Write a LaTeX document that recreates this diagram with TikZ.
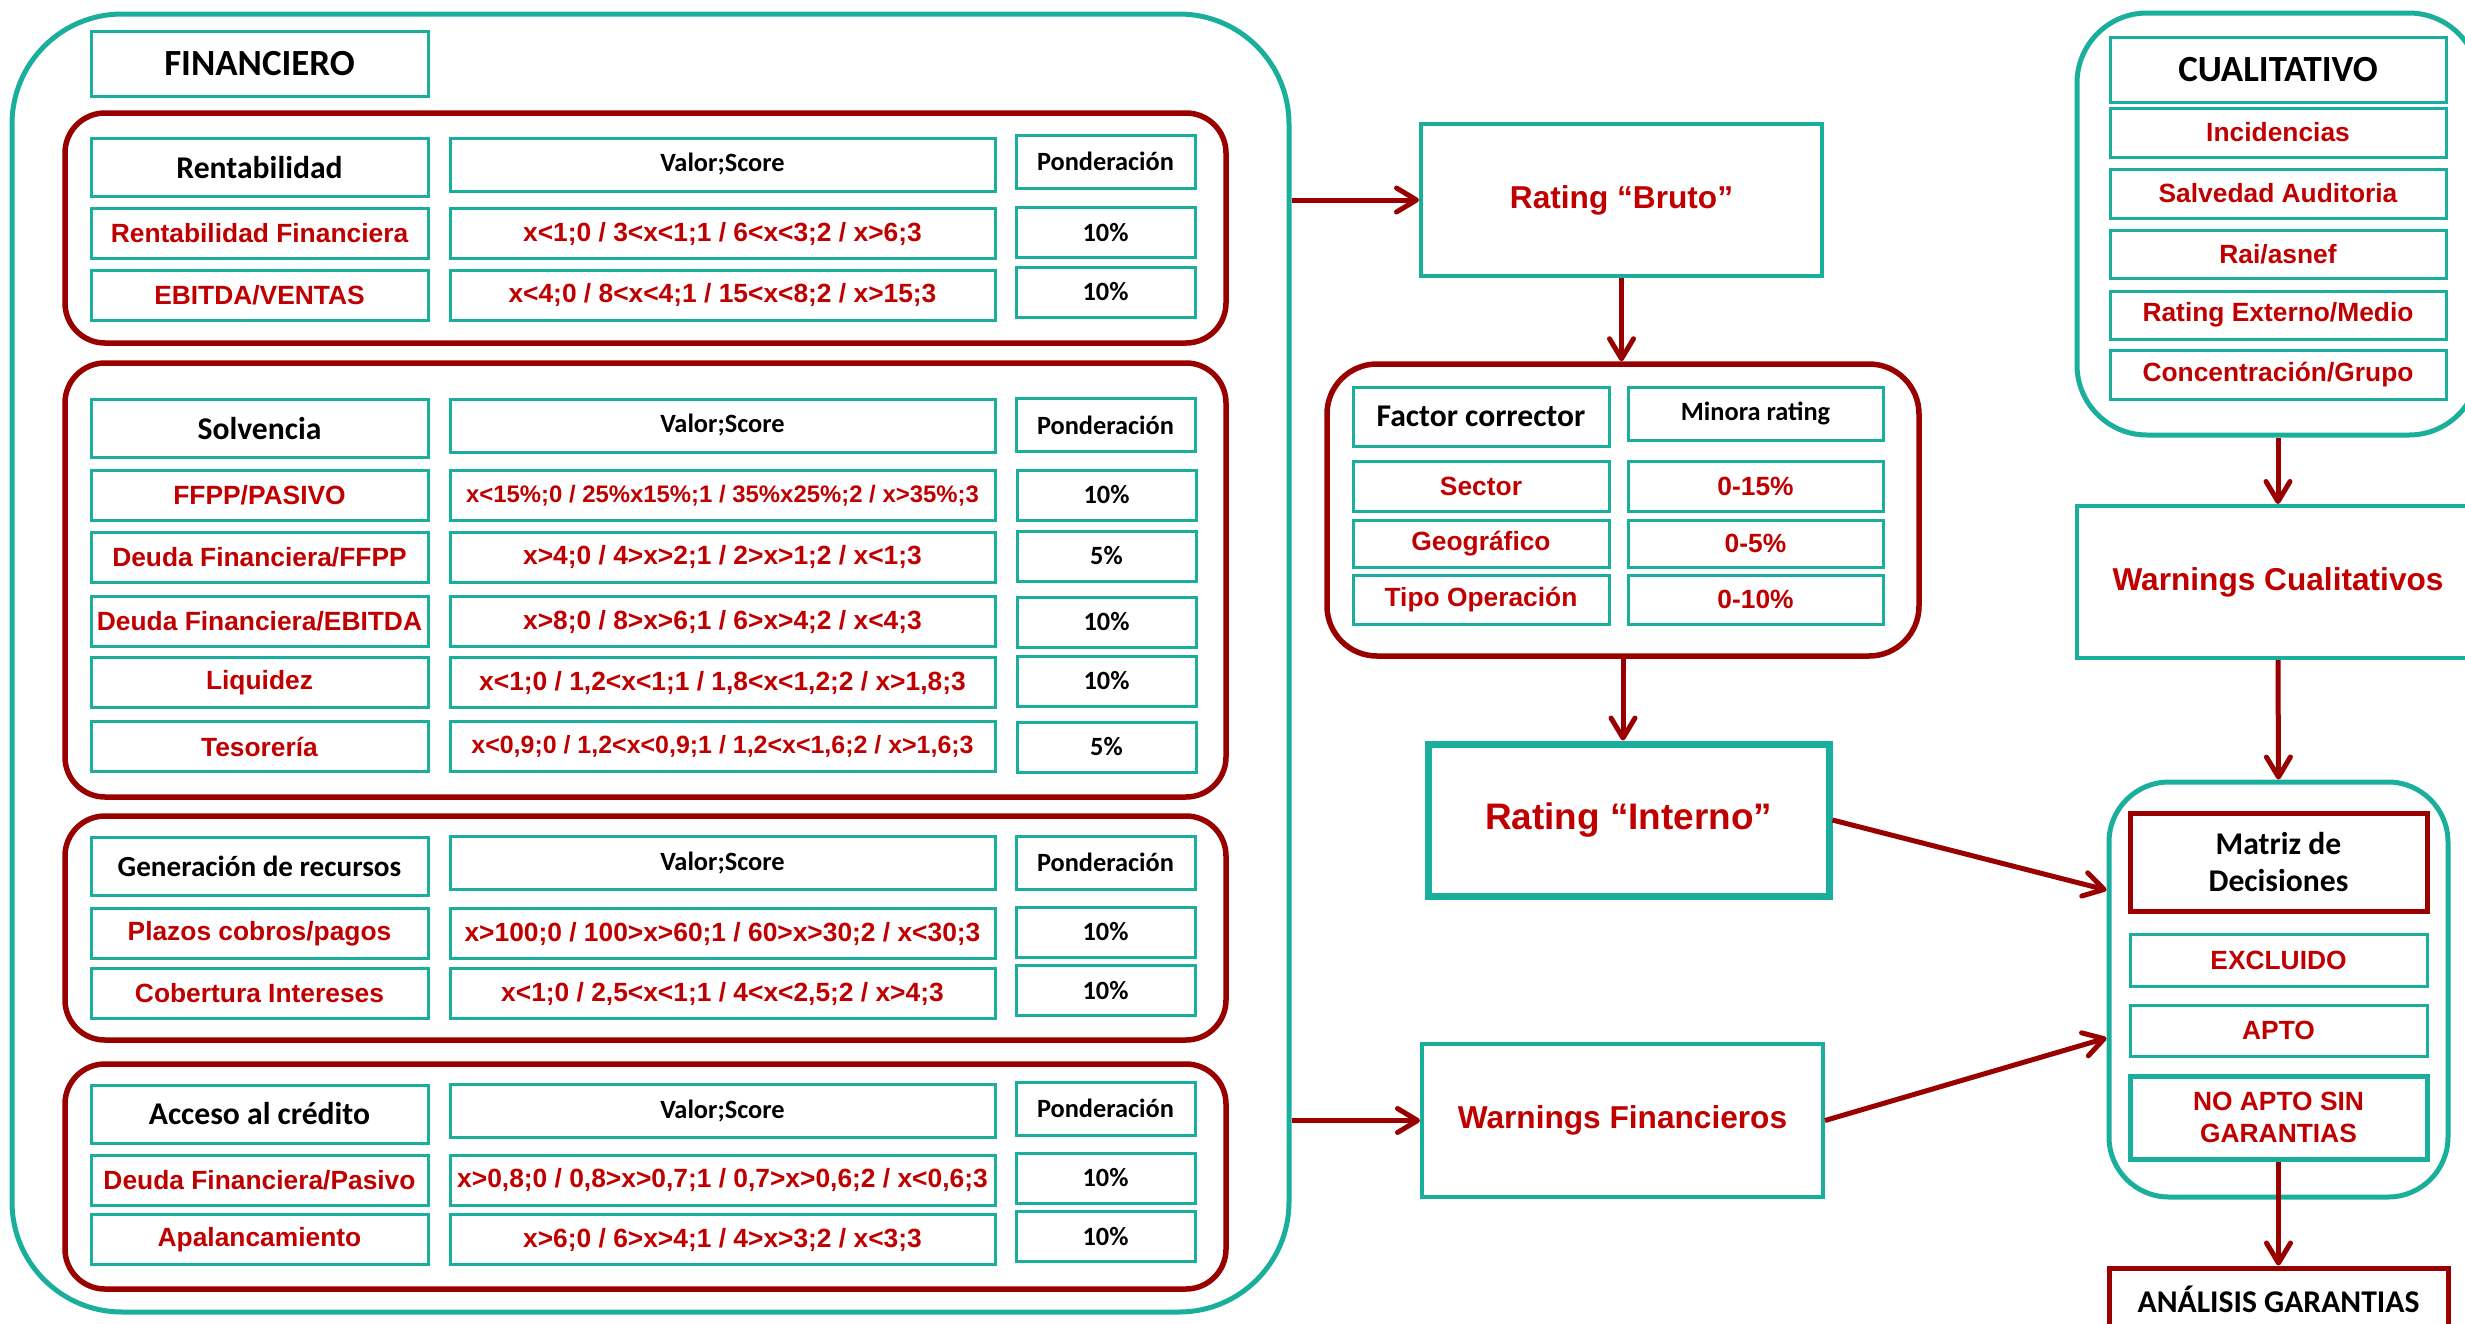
\documentclass[tikz,border=0pt]{standalone}
\usepackage{fontspec}
\setmainfont{Liberation Sans}
\newfontfamily\calibri{Carlito}
\usetikzlibrary{fit,calc,arrows.meta}
\definecolor{verde}{HTML}{1AAF9D}
\definecolor{granate}{HTML}{990000}
\definecolor{rojo}{HTML}{C00000}
\tikzstyle{celda}=[draw=verde, line width=0.3mm, inner sep=0pt, align=center]
\tikzstyle{colA}=[celda, minimum width=33.7mm]
\tikzstyle{colB}=[celda, minimum width=54.5mm]
\tikzstyle{colC}=[celda, minimum width=17.9mm]
\tikzstyle{hA}=[minimum height=5.8mm]
\tikzstyle{hB}=[minimum height=5.3mm]
\tikzstyle{fila}=[minimum height=5mm]
\tikzstyle{tit}=[font=\calibri\bfseries\fontsize{10.5}{12}\selectfont]
\tikzstyle{cab}=[font=\calibri\bfseries\fontsize{9}{11}\selectfont]
\tikzstyle{sub}=[font=\calibri\bfseries\fontsize{7.5}{9}\selectfont]
\tikzstyle{dato}=[text=rojo, font=\bfseries\fontsize{7.5}{9.2}\selectfont]
\tikzstyle{grupo}=[draw=granate, line width=0.55mm, rounded corners=4mm, inner sep=0pt]
\tikzstyle{marco}=[draw=verde, line width=0.5mm, rounded corners=11mm, inner sep=0pt]
\tikzstyle{caja}=[draw=verde, line width=0.4mm, inner sep=0pt, minimum width=40.1mm, minimum height=15.2mm, text=rojo, font=\bfseries\fontsize{9}{11}\selectfont]
\tikzstyle{flecha}=[draw=granate, line width=0.5mm, -{Straight Barb[round, length=2mm, width=2.4mm]}]

\begin{document}
\begin{tikzpicture}[x=0.1mm, y=-0.1mm]
\useasboundingbox (0,0) rectangle (2465,1323);
% Financiero
    \node[marco, fit={(12,14) (1289,1312)}] (fin) {};
    \node[colA, minimum height=6.5mm, tit] (fintit) at (259.5,63.5) {FINANCIERO};
% Rentabilidad
    \node[grupo, fit={(65,113) (1226,343)}] (rent) {};
    \node[colA, hA, cab] (r0a) at (259.5,167.5) {Rentabilidad};
    \node[colB, hB, sub] (r0b) at (722.5,164.5) {Valor;Score};
    \node[colC, hB, sub] (r0c) at (1105.5,161.5) {Ponderación};
    \node[colA, fila, dato] (r1a) at (259.5,233.5) {Rentabilidad Financiera};
    \node[colB, fila, dato] (r1b) at (722.5,233.5) {x<1;0 / 3<x<1;1 / 6<x<3;2 / x>6;3};
    \node[colC, fila, sub] (r1c) at (1105.5,232.5) {10\%};
    \node[colA, fila, dato] (r2a) at (259.5,295) {EBITDA/VENTAS};
    \node[colB, fila, dato] (r2b) at (722.5,295) {x<4;0 / 8<x<4;1 / 15<x<8;2 / x>15;3};
    \node[colC, fila, sub] (r2c) at (1105.5,292) {10\%};
% Solvencia
    \node[grupo, fit={(65,363) (1226,797)}] (solv) {};
    \node[colA, hA, cab] (s0a) at (259.5,428.5) {Solvencia};
    \node[colB, hB, sub] (s0b) at (722.5,425.5) {Valor;Score};
    \node[colC, hB, sub] (s0c) at (1105.5,425) {Ponderación};
    \node[colA, fila, dato] (s1a) at (259.5,495.5) {FFPP/PASIVO};
    \node[colB, fila, dato, font=\bfseries\fontsize{6.8}{8}\selectfont] (s1b) at (722.5,495.5) {x<15\%;0 / 25\%x15\%;1 / 35\%x25\%;2 / x>35\%;3};
    \node[colC, fila, sub] (s1c) at (1106.5,495) {10\%};
    \node[colA, fila, dato] (s2a) at (259.5,557) {Deuda Financiera/FFPP};
    \node[colB, fila, dato] (s2b) at (722.5,557) {x>4;0 / 4>x>2;1 / 2>x>1;2 / x<1;3};
    \node[colC, fila, sub] (s2c) at (1106.5,556) {5\%};
    \node[colA, fila, dato] (s3a) at (259.5,621.5) {Deuda Financiera/EBITDA};
    \node[colB, fila, dato] (s3b) at (722.5,621.5) {x>8;0 / 8>x>6;1 / 6>x>4;2 / x<4;3};
    \node[colC, fila, sub] (s3c) at (1106.5,622) {10\%};
    \node[colA, fila, dato] (s4a) at (259.5,682.5) {Liquidez};
    \node[colB, fila, dato] (s4b) at (722.5,682.5) {x<1;0 / 1,2<x<1;1 / 1,8<x<1,2;2 / x>1,8;3};
    \node[colC, fila, sub] (s4c) at (1106.5,681) {10\%};
    \node[colA, fila, dato] (s5a) at (259.5,746.5) {Tesorería};
    \node[colB, fila, dato, font=\bfseries\fontsize{7.1}{8.5}\selectfont] (s5b) at (722.5,746.5) {x<0,9;0 / 1,2<x<0,9;1 / 1,2<x<1,6;2 / x>1,6;3};
    \node[colC, fila, sub] (s5c) at (1106.5,747) {5\%};
% Generacion de recursos
    \node[grupo, fit={(65,816) (1226,1040)}] (gen) {};
    \node[colA, hA, font=\calibri\bfseries\fontsize{8.3}{10}\selectfont] (g0a) at (259.5,866) {Generación de recursos};
    \node[colB, hB, sub] (g0b) at (722.5,863) {Valor;Score};
    \node[colC, hB, sub] (g0c) at (1105.5,862.5) {Ponderación};
    \node[colA, fila, dato] (g1a) at (259.5,933.5) {Plazos cobros/pagos};
    \node[colB, fila, dato] (g1b) at (722.5,933.5) {x>100;0 / 100>x>60;1 / 60>x>30;2 / x<30;3};
    \node[colC, fila, sub] (g1c) at (1105.5,932) {10\%};
    \node[colA, fila, dato] (g2a) at (259.5,993.5) {Cobertura Intereses};
    \node[colB, fila, dato] (g2b) at (722.5,993.5) {x<1;0 / 2,5<x<1;1 / 4<x<2,5;2 / x>4;3};
    \node[colC, fila, sub] (g2c) at (1105.5,990.5) {10\%};
% Acceso al credito
    \node[grupo, fit={(65,1064) (1226,1289)}] (acc) {};
    \node[colA, hA, cab] (a0a) at (259.5,1114) {Acceso al crédito};
    \node[colB, hB, sub] (a0b) at (722.5,1111) {Valor;Score};
    \node[colC, hB, sub] (a0c) at (1105.5,1108.5) {Ponderación};
    \node[colA, fila, dato] (a1a) at (259.5,1180) {Deuda Financiera/Pasivo};
    \node[colB, fila, dato] (a1b) at (722.5,1180) {x>0,8;0 / 0,8>x>0,7;1 / 0,7>x>0,6;2 / x<0,6;3};
    \node[colC, fila, sub] (a1c) at (1105.5,1178) {10\%};
    \node[colA, fila, dato] (a2a) at (259.5,1239.5) {Apalancamiento};
    \node[colB, fila, dato] (a2b) at (722.5,1239.5) {x>6;0 / 6>x>4;1 / 4>x>3;2 / x<3;3};
    \node[colC, fila, sub] (a2c) at (1105.5,1236.5) {10\%};
% Ratings
    \node[caja] (bruto) at (1621.5,200) {Rating “Bruto”};
    \node[grupo, rounded corners=5mm, fit={(1327,364) (1919,656)}] (factor) {};
    \node[celda, minimum width=25.6mm, minimum height=5.9mm, cab] (f0a) at (1481,416.5) {Factor corrector};
    \node[celda, minimum width=25.5mm, minimum height=5.3mm, sub] (f0b) at (1755.5,413.5) {Minora rating};
    \node[celda, minimum width=25.6mm, minimum height=5mm, dato] (f1a) at (1481,486) {Sector};
    \node[celda, minimum width=25.5mm, minimum height=5mm, dato] (f1b) at (1755.5,486) {0-15\%};
    \node[celda, minimum width=25.6mm, minimum height=4.7mm, dato] (f2a) at (1481,543.5) {Geográfico};
    \node[celda, minimum width=25.5mm, minimum height=4.7mm, dato] (f2b) at (1755.5,543.5) {0-5\%};
    \node[celda, minimum width=25.6mm, minimum height=4.9mm, dato] (f3a) at (1481,599.5) {Tipo Operación};
    \node[celda, minimum width=25.5mm, minimum height=4.9mm, dato] (f3b) at (1755.5,599.5) {0-10\%};
    \node[caja, line width=0.7mm, font=\bfseries\fontsize{10.5}{12}\selectfont] (interno) at (1628.5,820) {Rating “Interno”};
    \node[caja, minimum height=15.3mm] (wfin) at (1622.5,1120.5) {Warnings Financieros};
% Cualitativo
    \node[marco, rounded corners=7mm, fit={(2077,13) (2479,435)}] (cual) {};
    \node[celda, minimum width=33.6mm, minimum height=6.5mm, tit] (c0) at (2278,69.5) {CUALITATIVO};
    \node[celda, minimum width=33.6mm, minimum height=4.9mm, dato] (c1) at (2278,132.5) {Incidencias};
    \node[celda, minimum width=33.6mm, minimum height=4.9mm, dato] (c2) at (2278,193.5) {Salvedad Auditoria};
    \node[celda, minimum width=33.6mm, minimum height=4.8mm, dato] (c3) at (2278,254) {Rai/asnef};
    \node[celda, minimum width=33.6mm, minimum height=4.8mm, dato] (c4) at (2278,315) {Rating Externo/Medio};
    \node[celda, minimum width=33.6mm, minimum height=4.9mm, dato] (c5) at (2278,374.5) {Concentración/Grupo};
    \node[caja, minimum width=40.2mm] (wcual) at (2278,582) {Warnings Cualitativos};
% Matriz
    \node[marco, rounded corners=6mm, fit={(2109,782) (2448,1197)}] (matriz) {};
    \node[celda, draw=granate, line width=0.5mm, minimum width=29.7mm, minimum height=9.8mm, font=\calibri\bfseries\fontsize{9}{10.8}\selectfont] (mdec) at (2278.5,862) {Matriz de\\Decisiones};
    \node[celda, minimum width=29.7mm, minimum height=5.2mm, dato] (m1) at (2278.5,960) {EXCLUIDO};
    \node[celda, minimum width=29.7mm, minimum height=5.1mm, dato] (m2) at (2278.5,1030.5) {APTO};
    \node[celda, line width=0.5mm, minimum width=29.7mm, minimum height=8.3mm, dato] (m3) at (2278.5,1117.5) {NO APTO SIN\\GARANTIAS};
    \node[celda, draw=granate, line width=0.5mm, cab, minimum width=33.9mm, minimum height=6.2mm] (anal) at (2278.5,1299) {ANÁLISIS GARANTIAS};
% Flechas
    \draw[flecha] (fin.east |- bruto.west) -- (bruto.west);
    \draw[flecha] (bruto.south) -- (bruto.south |- factor.north);
    \draw[flecha] (factor.south) -- (factor.south |- interno.north);
    \draw[flecha] (fin.east |- wfin.west) -- (wfin.west);
    \draw[flecha] (cual.south) -- (wcual.north);
    \draw[flecha] (wcual.south) -- (matriz.north);
    \draw[flecha] (interno.east) -- ($(matriz.west)+(0,-99.5)$);
    \draw[flecha] (wfin.east) -- ($(matriz.west)+(0,48.5)$);
    \draw[flecha] (m3.south) -- (anal.north);
\end{tikzpicture}
\end{document}
